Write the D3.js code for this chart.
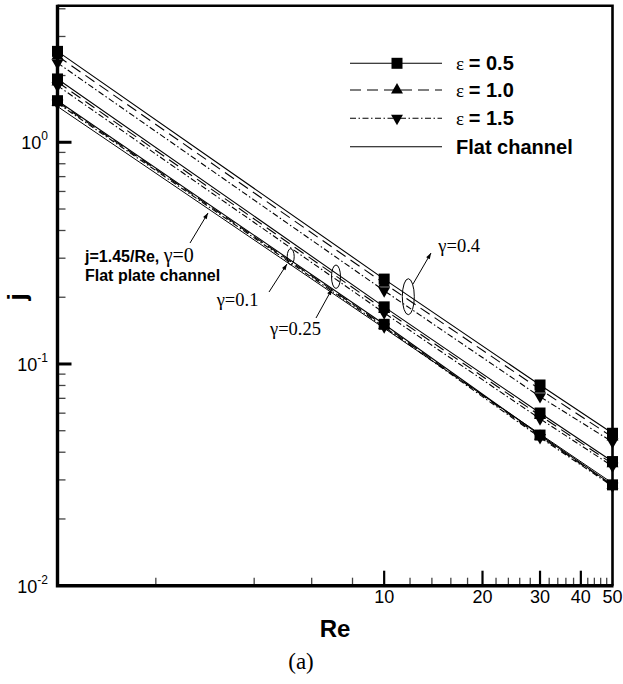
<!DOCTYPE html>
<html>
<head>
<meta charset="utf-8">
<script src="https://cdn.jsdelivr.net/npm/d3@7"></script>
<style>
  html, body { margin: 0; padding: 0; background: #fff; }
  svg { display: block; }
</style>
</head>
<body>
<svg id="chart" width="623" height="684"></svg>
<script>
// Re values where the markers sit
const reValues = [1, 10, 30, 50]
// j per gamma group (0.1, 0.25, 0.4), read at Re = 1, 10, 30, 50
const jEps05 = [
  [1.54, 0.151, 0.0478, 0.0285],
  [1.93, 0.181, 0.0601, 0.0363],
  [2.57, 0.2415, 0.0804, 0.0487]
]
const jEps10 = [
  [1.52, 0.149, 0.0472, 0.0283],
  [1.87, 0.176, 0.0585, 0.0355],
  [2.45, 0.231, 0.0768, 0.0468]
]
const jEps15 = [
  [1.5, 0.147, 0.0466, 0.0281],
  [1.8, 0.17, 0.0566, 0.0346],
  [2.28, 0.214, 0.0712, 0.0445]
]
// j = 1.45/Re, gamma = 0
const jFlat = [1.45, 0.145, 0.0483, 0.029]

const gammaLabels = ["γ=0.1", "γ=0.25", "γ=0.4"]
const legendLabels = ["= 0.5", "= 1.0", "= 1.5", "Flat channel"]
const xTickLabels = [10, 20, 30, 40, 50]
const yTickExponents = [-2, -1, 0]

const sans = "'Liberation Sans', Arial, sans-serif"
const serif = "'Liberation Serif', 'Times New Roman', serif"

const svg = d3.select("#chart")

const x = d3.scaleLog().domain([1, 50]).range([57.5, 612.5])
const y = d3.scaleLog().domain([0.01, 4.13]).range([585.7, 5.7])

const line = d3
  .line()
  .x((d) => x(d.re))
  .y((d) => y(d.j))

const series = [
  { groups: jEps05, dash: null, symbol: d3.symbolSquare, size: 121, rotate: 0 },
  { groups: jEps10, dash: "11,6", symbol: d3.symbolTriangle, size: 62, rotate: 0 },
  { groups: jEps15, dash: "6,2.5,1.5,2.5", symbol: d3.symbolTriangle, size: 62, rotate: 180 }
]

// ticks (inside the frame)
const tickG = svg.append("g")
const xMinor = d3.range(2, 50, 2).filter((v) => xTickLabels.indexOf(v) < 0)
tickG
  .selectAll("line.xminor")
  .data(xMinor)
  .enter()
  .append("line")
  .attr("x1", (d) => x(d))
  .attr("x2", (d) => x(d))
  .attr("y1", y(0.01))
  .attr("y2", y(0.01) - 8)
  .attr("stroke", "#444")
  .attr("stroke-width", 1.3)
tickG
  .selectAll("line.xmajor")
  .data(xTickLabels.slice(0, 4))
  .enter()
  .append("line")
  .attr("x1", (d) => x(d))
  .attr("x2", (d) => x(d))
  .attr("y1", y(0.01))
  .attr("y2", y(0.01) - 15)
  .attr("stroke", "#000")
  .attr("stroke-width", 2.2)

const yMinor = y.ticks(30).filter((v) => {
  const m = v / Math.pow(10, Math.floor(Math.log10(v) + 1e-9))
  return Math.abs(m - 1) > 1e-6
})
tickG
  .selectAll("line.yminor")
  .data(yMinor)
  .enter()
  .append("line")
  .attr("x1", x(1))
  .attr("x2", x(1) + 8)
  .attr("y1", (d) => y(d))
  .attr("y2", (d) => y(d))
  .attr("stroke", "#444")
  .attr("stroke-width", 1.3)
tickG
  .selectAll("line.ymajor")
  .data(yTickExponents.slice(1))
  .enter()
  .append("line")
  .attr("x1", x(1))
  .attr("x2", x(1) + 14)
  .attr("y1", (d) => y(Math.pow(10, d)))
  .attr("y2", (d) => y(Math.pow(10, d)))
  .attr("stroke", "#000")
  .attr("stroke-width", 3)

// frame
const [x0, x1] = x.range()
const [y0, y1] = y.range()
svg.append("path")
  .attr("d", `M${x0},${y1}H${x1}V${y0}`)
  .attr("fill", "none")
  .attr("stroke", "#000")
  .attr("stroke-width", 2.6)
svg.append("path")
  .attr("d", `M${x0},${y1 - 1}V${y0}H${x1 + 1}`)
  .attr("fill", "none")
  .attr("stroke", "#000")
  .attr("stroke-width", 3.4)

// tick labels
svg.selectAll("text.xlab")
  .data(xTickLabels)
  .enter()
  .append("text")
  .attr("x", (d) => x(d))
  .attr("y", 603)
  .attr("text-anchor", "middle")
  .attr("font-family", sans)
  .attr("font-size", 18)
  .text((d) => d)

const yLab = svg.selectAll("text.ylab")
  .data(yTickExponents)
  .enter()
  .append("text")
  .attr("x", 48)
  .attr("y", (d) => y(Math.pow(10, d)) + 7)
  .attr("text-anchor", "end")
  .attr("font-family", sans)
  .attr("font-size", 18)
yLab.append("tspan").text("10")
yLab.append("tspan")
  .attr("dy", -9)
  .attr("font-size", 12)
  .text((d) => d)

// data lines
const lineG = svg.append("g")
const flatPts = reValues.map((re, i) => ({ re: re, j: jFlat[i] }))
lineG.append("path")
  .attr("d", line(flatPts))
  .attr("fill", "none")
  .attr("stroke", "#000")
  .attr("stroke-width", 1)

series.forEach((s) => {
  s.groups.forEach((vals) => {
    const pts = reValues.map((re, i) => ({ re: re, j: vals[i] }))
    lineG.append("path")
      .attr("d", line(pts))
      .attr("fill", "none")
      .attr("stroke", "#000")
      .attr("stroke-width", 1.1)
      .attr("stroke-dasharray", s.dash)
  })
})

// markers, drawn from lowest epsilon on top
const markG = svg.append("g")
series.slice().reverse().forEach((s) => {
  s.groups.forEach((vals) => {
    markG.selectAll(null)
      .data(reValues.map((re, i) => ({ re: re, j: vals[i] })))
      .enter()
      .append("path")
      .attr("d", d3.symbol().type(s.symbol).size(s.size))
      .attr("transform", (d) => `translate(${x(d.re)},${y(d.j)}) rotate(${s.rotate})`)
      .attr("fill", "#000")
  })
})

// legend
const legend = svg.append("g")
const legendRows = [63.3, 90, 118.3, 146.7]
legendLabels.forEach((label, i) => {
  const ly = legendRows[i]
  const s = series[i]
  legend.append("line")
    .attr("x1", 350)
    .attr("x2", 442)
    .attr("y1", ly)
    .attr("y2", ly)
    .attr("stroke", "#000")
    .attr("stroke-width", 1.1)
    .attr("stroke-dasharray", s ? s.dash : null)
  if (s) {
    legend.append("path")
      .attr("d", d3.symbol().type(s.symbol).size(s.size))
      .attr("transform", `translate(397,${ly}) rotate(${s.rotate})`)
      .attr("fill", "#000")
  }
  const t = legend.append("text")
    .attr("x", 456)
    .attr("y", ly + 7)
    .attr("font-family", sans)
    .attr("font-weight", "bold")
    .attr("font-size", 20)
  if (s) {
    t.append("tspan")
      .attr("font-family", serif)
      .attr("font-weight", "normal")
      .attr("font-size", 19)
      .text("ε ")
  }
  t.append("tspan").text(label)
})

// axis titles
svg.append("text")
  .attr("x", 335)
  .attr("y", 637)
  .attr("text-anchor", "middle")
  .attr("font-family", sans)
  .attr("font-weight", "bold")
  .attr("font-size", 24)
  .text("Re")
svg.append("text")
  .attr("transform", "translate(26,297) rotate(-90)")
  .attr("text-anchor", "middle")
  .attr("font-family", sans)
  .attr("font-weight", "bold")
  .attr("font-size", 26)
  .text("j")
svg.append("text")
  .attr("x", 301)
  .attr("y", 669)
  .attr("text-anchor", "middle")
  .attr("font-family", serif)
  .attr("font-size", 23)
  .text("(a)")

// annotations
svg.append("defs")
  .append("marker")
  .attr("id", "arrow")
  .attr("viewBox", "0 0 10 10")
  .attr("refX", 10)
  .attr("refY", 5)
  .attr("markerWidth", 8)
  .attr("markerHeight", 6)
  .attr("orient", "auto")
  .append("path")
  .attr("d", "M0,1.5L10,5L0,8.5Z")
  .attr("fill", "#000")

const ann = svg.append("g")
const arrows = [
  [190, 243, 208, 213],
  [269, 292, 287, 264],
  [316, 318, 332, 289],
  [413, 284, 431, 253]
]
arrows.forEach((a) => {
  ann.append("line")
    .attr("x1", a[0]).attr("y1", a[1])
    .attr("x2", a[2]).attr("y2", a[3])
    .attr("stroke", "#000")
    .attr("stroke-width", 1)
    .attr("marker-end", "url(#arrow)")
})
const ellipses = [
  [290.7, 256.7, 3.5, 8],
  [336, 276.7, 4.5, 11.7],
  [408.3, 296.7, 6, 18]
]
ellipses.forEach((e) => {
  ann.append("ellipse")
    .attr("cx", e[0]).attr("cy", e[1])
    .attr("rx", e[2]).attr("ry", e[3])
    .attr("fill", "none")
    .attr("stroke", "#000")
    .attr("stroke-width", 1)
})

const gammaPos = [[216.7, 306], [270, 335], [438.3, 251.7]]
gammaLabels.forEach((g, i) => {
  ann.append("text")
    .attr("x", gammaPos[i][0])
    .attr("y", gammaPos[i][1])
    .attr("font-family", serif)
    .attr("font-size", 18.5)
    .text(g)
})

const flatNote = ann.append("text")
  .attr("x", 85)
  .attr("y", 261.7)
  .attr("font-family", sans)
  .attr("font-weight", "bold")
  .attr("font-size", 16)
flatNote.append("tspan").text("j=1.45/Re, ")
flatNote.append("tspan")
  .attr("font-family", serif)
  .attr("font-weight", "normal")
  .attr("font-size", 20)
  .text("γ=0")
ann.append("text")
  .attr("x", 85)
  .attr("y", 281)
  .attr("font-family", sans)
  .attr("font-weight", "bold")
  .attr("font-size", 16)
  .text("Flat plate channel")
</script>
</body>
</html>
